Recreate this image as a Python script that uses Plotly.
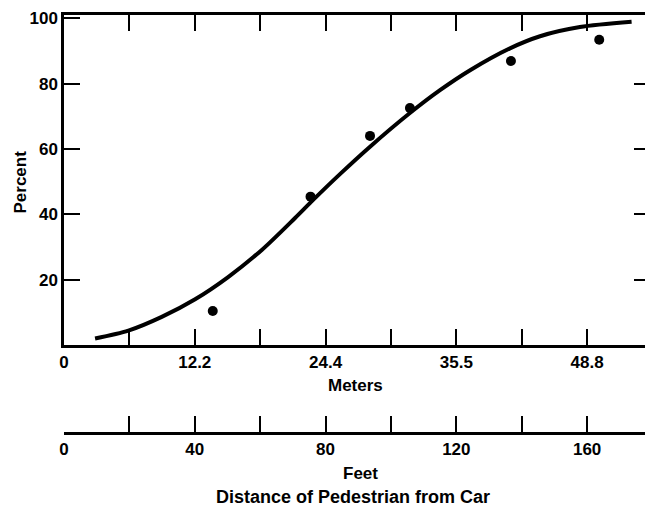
import plotly.graph_objects as go

# Data (distance in feet, percent)
curve_feet = [9.5, 19.7, 29.9, 40.1, 50.2, 60.5, 70.6, 76.2, 84.4, 93.6, 105.8, 115.0, 124.2, 136.4, 145.6, 157.8, 173.6]
curve_pct = [2.0, 4.4, 8.6, 14.0, 20.8, 29.1, 38.8, 44.4, 52.3, 60.7, 71.0, 78.0, 84.1, 90.8, 94.5, 97.3, 98.9]

obs_feet = [45.5, 75.4, 93.6, 105.8, 136.7, 163.7]
obs_pct = [10.4, 45.4, 64.0, 72.5, 86.9, 93.4]

tick_feet = [0, 20, 40, 60, 80, 100, 120, 140, 160]
meter_labels = ["0", "", "12.2", "", "24.4", "", "35.5", "", "48.8"]
feet_labels = ["0", "", "40", "", "80", "", "120", "", "160"]
pct_ticks = [20, 40, 60, 80, 100]
pct_labels = ["20", "40", "60", "80", "100"]

FONT = "Liberation Sans, Arial, Helvetica, sans-serif"
W, H = 645, 508
ML, MR, MT, MB = 64, 0, 15, 0
plot_bottom_px = 345
feet_axis_px = 433
ph = H - MT - MB
pw = W - ML - MR

def py(px):
    return (H - MB - px) / ph

def pxx(px):
    return (px - ML) / pw

fig = go.Figure()
fig.add_trace(go.Scatter(x=curve_feet, y=curve_pct, mode="lines",
                         line=dict(color="black", width=4, shape="spline", smoothing=0.8),
                         hoverinfo="skip", showlegend=False))
fig.add_trace(go.Scatter(x=obs_feet, y=obs_pct, mode="markers",
                         marker=dict(color="black", size=10),
                         showlegend=False))
# helper trace to render the overlay axes
fig.add_trace(go.Scatter(x=[0], y=[0], xaxis="x2", yaxis="y2", mode="markers",
                         marker=dict(opacity=0), hoverinfo="skip", showlegend=False))

XR = [0, 177.7]
YR = [0, 101]
tickfont = dict(family=FONT, size=17, color="black", weight="bold")
titlefont = dict(family=FONT, size=17, color="black", weight="bold")

fig.update_layout(
    width=W, height=H,
    margin=dict(l=ML, r=MR, t=MT, b=MB),
    plot_bgcolor="white", paper_bgcolor="white",
    xaxis=dict(range=XR, tickmode="array", tickvals=tick_feet, ticktext=meter_labels,
               ticks="inside", ticklen=16, tickwidth=2, tickcolor="black",
               showline=True, linewidth=2.5, linecolor="black", mirror="ticks",
               showgrid=False, zeroline=False, tickfont=tickfont),
    xaxis2=dict(range=XR, overlaying="x", anchor="free", position=py(feet_axis_px),
                side="bottom", tickmode="array", tickvals=tick_feet, ticktext=feet_labels,
                ticks="inside", ticklen=16, tickwidth=2, tickcolor="black",
                showline=True, linewidth=2.5, linecolor="black",
                showgrid=False, zeroline=False, tickfont=tickfont),
    yaxis=dict(range=YR, domain=[py(plot_bottom_px), 1], tickmode="array",
               tickvals=pct_ticks, ticktext=pct_labels,
               ticks="inside", ticklen=16, tickwidth=2, tickcolor="black",
               showline=True, linewidth=2.5, linecolor="black",
               showgrid=False, zeroline=False, tickfont=tickfont),
    yaxis2=dict(range=YR, overlaying="y", side="right", anchor="x",
                tickmode="array", tickvals=[20, 40, 60, 80],
                ticks="inside", ticklen=11, tickwidth=2, tickcolor="black",
                showline=False, showticklabels=False, showgrid=False, zeroline=False),
    annotations=[
        dict(text="Percent", xref="paper", yref="paper", x=pxx(19.5), y=py(182),
             textangle=-90, showarrow=False, xanchor="center", yanchor="middle",
             font=titlefont),
        dict(text="Meters", xref="paper", yref="paper", x=pxx(355.5), y=py(385),
             showarrow=False, xanchor="center", yanchor="middle", font=titlefont),
        dict(text="Feet", xref="paper", yref="paper", x=pxx(360), y=py(473.5),
             showarrow=False, xanchor="center", yanchor="middle", font=titlefont),
        dict(text="Distance of Pedestrian from Car", xref="paper", yref="paper",
             x=pxx(353), y=py(497), showarrow=False, xanchor="center", yanchor="middle",
             font=dict(family=FONT, size=18, color="black", weight="bold")),
    ],
)

fig.write_html("out.html")
